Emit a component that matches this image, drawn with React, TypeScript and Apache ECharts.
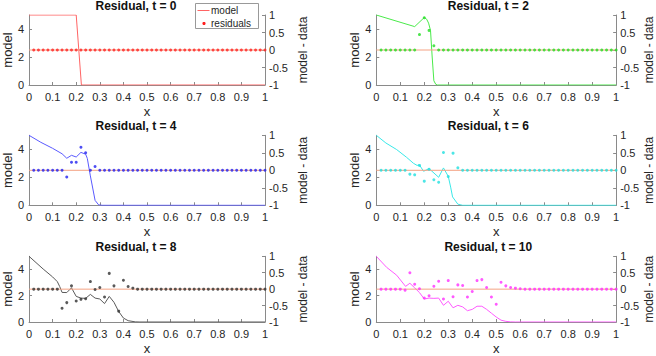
import React, { useEffect, useRef } from "react";
import * as echarts from "echarts";

// ---- data ----
const times = [0, 2, 4, 6, 8, 10];

const residualX = [
  0.02, 0.04, 0.06, 0.08, 0.1, 0.12, 0.14, 0.16, 0.18, 0.2,
  0.22, 0.24, 0.26, 0.28, 0.3, 0.32, 0.34, 0.36, 0.38, 0.4,
  0.42, 0.44, 0.46, 0.48, 0.5, 0.52, 0.54, 0.56, 0.58, 0.6,
  0.62, 0.64, 0.66, 0.68, 0.7, 0.72, 0.74, 0.76, 0.78, 0.8,
  0.82, 0.84, 0.86, 0.88, 0.9, 0.92, 0.94, 0.96, 0.98, 1,
];

const modelX_t0 = [0, 0.2, 0.222, 1];
const modelY_t0 = [5, 5, 0, 0];

const modelX_t2 = [0, 0.16, 0.2, 0.21, 0.218, 0.226, 0.233, 0.24, 0.248, 0.255, 1];
const modelY_t2 = [5, 4.17, 4.82, 4.7, 4.42, 3.9, 2.0, 0.3, 0.05, 0, 0];

const modelX_t4 = [0, 0.05, 0.1, 0.14, 0.16, 0.18, 0.2, 0.22, 0.24, 0.247, 0.26, 0.28, 0.295, 0.31, 1];
const modelY_t4 = [5, 4.5, 4.07, 3.68, 3.36, 3.57, 3.45, 3.78, 3.65, 3.35, 2.1, 0.35, 0.03, 0, 0];

const modelX_t6 = [0, 0.04, 0.085, 0.126, 0.155, 0.17, 0.18, 0.197, 0.22, 0.26, 0.28, 0.3, 0.31, 0.318, 0.34, 0.36, 1];
const modelY_t6 = [5, 4.45, 3.98, 3.43, 3.0, 2.85, 2.88, 2.43, 2.62, 2.0, 2.67, 2.07, 1.3, 0.6, 0.08, 0, 0];

const modelX_t8 = [0, 0.06, 0.1, 0.12, 0.13, 0.14, 0.16, 0.18, 0.2, 0.22, 0.24, 0.26, 0.28, 0.3, 0.32, 0.34, 0.36, 0.38, 0.4, 0.42, 0.45, 0.47, 1];
const modelY_t8 = [5, 4.03, 3.43, 3.07, 2.7, 2.25, 2.24, 2.6, 1.95, 1.82, 1.8, 2.1, 1.82, 1.75, 1.4, 1.95, 1.5, 0.8, 0.3, 0.1, 0.01, 0, 0];

const modelX_t10 = [0, 0.043, 0.085, 0.122, 0.14, 0.16, 0.18, 0.2, 0.22, 0.24, 0.26, 0.28, 0.3, 0.32, 0.34, 0.36, 0.38, 0.4, 0.42, 0.44, 0.46, 0.48, 0.5, 0.52, 0.54, 0.56, 0.58, 1];
const modelY_t10 = [5, 4.16, 3.56, 2.71, 2.95, 2.6, 2.24, 1.75, 1.82, 1.8, 1.82, 1.27, 1.58, 1.08, 1.27, 1.15, 0.86, 0.96, 1.2, 1.2, 0.96, 0.67, 0.38, 0.14, 0.05, 0.01, 0, 0];

// non-zero residuals (all other residuals are 0)
const resid_t0: [number, number][] = [];
const resid_t2: [number, number][] = [[0.18, 0.44], [0.2, 0.92], [0.22, 0.56], [0.24, 0.12]];
const resid_t4: [number, number][] = [[0.16, -0.19], [0.18, 0.23], [0.2, 0.23], [0.22, 0.66], [0.24, 0.5], [0.28, 0.11]];
const resid_t6: [number, number][] = [
  [0.14, -0.11], [0.16, -0.13], [0.18, 0.14], [0.2, -0.31], [0.22, 0.03], [0.24, -0.27],
  [0.26, -0.34], [0.28, 0.51], [0.3, -0.18], [0.32, 0.49], [0.34, 0.07],
];
const resid_t8: [number, number][] = [
  [0.14, -0.58], [0.16, -0.41], [0.18, 0.1], [0.2, -0.36], [0.22, -0.31], [0.24, -0.29],
  [0.26, 0.23], [0.28, -0.01], [0.3, 0.05], [0.32, -0.24], [0.34, 0.48], [0.36, 0.1],
  [0.38, -0.67], [0.4, 0.27], [0.42, 0.08], [0.44, 0.03],
];
const resid_t10: [number, number][] = [
  [0.12, -0.03], [0.14, 0.5], [0.16, 0.15], [0.18, 0.01], [0.2, -0.27], [0.22, -0.2],
  [0.24, 0.09], [0.26, 0.24], [0.28, -0.3], [0.3, 0.26], [0.32, -0.23], [0.34, 0.13],
  [0.36, 0.11], [0.38, -0.24], [0.4, -0.07], [0.42, 0.26], [0.44, 0.29], [0.46, 0.05],
  [0.48, -0.24], [0.5, -0.46], [0.52, 0.21], [0.54, 0.1], [0.56, 0.05], [0.58, 0.03], [0.6, 0.01],
];

const modelXs = [modelX_t0, modelX_t2, modelX_t4, modelX_t6, modelX_t8, modelX_t10];
const modelYs = [modelY_t0, modelY_t2, modelY_t4, modelY_t6, modelY_t8, modelY_t10];
const resids = [resid_t0, resid_t2, resid_t4, resid_t6, resid_t8, resid_t10];

const modelColors = ["#ff6464", "#4aea4a", "#5a5aff", "#3ae8e8", "#5a5a5a", "#ff5aff"];
const dotColors = ["#ff2020", "#20dd20", "#2020f0", "#20e0e0", "#303030", "#ff30ff"];
const zeroColor = "#f4a283";

// ---- layout ----
const colLeft = [24, 376.3];
const plotW = 241;
const rowTop = [15, 135.3, 256.3];
const plotH = 70;
const W = 656;
const H = 356;
const FONT = "Liberation Sans, Arial, Helvetica, sans-serif";
const axisGray = "#8a8a8a";
const textCol = "#262626";

function fmt(v: number) {
  return String(parseFloat(v.toFixed(2)));
}

function buildOption() {
  const grid: any[] = [];
  const xAxis: any[] = [];
  const yAxis: any[] = [];
  const series: any[] = [];
  const title: any[] = [];

  times.forEach((t, i) => {
    const col = i % 2;
    const row = Math.floor(i / 2);
    const left = colLeft[col];
    const top = rowTop[row];
    grid.push({ left, top, width: plotW, height: plotH, containLabel: false });

    title.push({
      text: `Residual, t = ${t}`,
      left: left + 112,
      top: top - 15,
      textAlign: "center",
      textStyle: { fontFamily: FONT, fontSize: 12, fontWeight: "bold", color: "#111" },
      padding: 0,
    });

    xAxis.push({
      type: "value",
      gridIndex: i,
      min: 0,
      max: 1,
      interval: 0.1,
      name: "x",
      nameLocation: "middle",
      nameGap: 20,
      nameTextStyle: { fontFamily: FONT, fontSize: 13, color: textCol },
      axisLine: { show: true, lineStyle: { color: axisGray, width: 1 } },
      axisTick: { show: true, inside: true, length: 3, lineStyle: { color: axisGray } },
      axisLabel: { fontFamily: FONT, fontSize: 11, color: textCol, margin: 6, formatter: (v: number) => fmt(v) },
      splitLine: { show: false },
    });

    yAxis.push({
      type: "value",
      gridIndex: i,
      position: "left",
      min: 0,
      max: 5,
      name: "model",
      nameLocation: "middle",
      nameGap: 12,
      nameTextStyle: { fontFamily: FONT, fontSize: 13, color: textCol },
      axisLine: { show: true, lineStyle: { color: axisGray, width: 1 } },
      axisTick: { show: true, inside: true, length: 3, customValues: [0, 2, 4], lineStyle: { color: axisGray } },
      axisLabel: { fontFamily: FONT, fontSize: 11, color: textCol, margin: 5, customValues: [0, 2, 4] },
      splitLine: { show: false },
    });

    yAxis.push({
      type: "value",
      gridIndex: i,
      position: "right",
      min: -1,
      max: 1,
      interval: 0.5,
      name: "model - data",
      nameLocation: "middle",
      nameGap: col === 0 ? 32 : 23,
      nameTextStyle: { fontFamily: FONT, fontSize: 12, color: textCol },
      axisLine: { show: true, lineStyle: { color: axisGray, width: 1 } },
      axisTick: { show: true, inside: true, length: 3, lineStyle: { color: axisGray } },
      axisLabel: { fontFamily: FONT, fontSize: 11, color: textCol, margin: 4, formatter: (v: number) => fmt(v) },
      splitLine: { show: false },
    });

    const mx = modelXs[i];
    const my = modelYs[i];
    series.push({
      type: "line",
      name: "model",
      xAxisIndex: i,
      yAxisIndex: 2 * i,
      data: mx.map((x, k) => [x, my[k]]),
      symbol: "none",
      showSymbol: false,
      lineStyle: { color: modelColors[i], width: 1 },
      itemStyle: { color: modelColors[i] },
      z: 2,
    });

    series.push({
      type: "line",
      name: "zero",
      xAxisIndex: i,
      yAxisIndex: 2 * i + 1,
      data: [[0, 0], [1, 0]],
      symbol: "none",
      showSymbol: false,
      lineStyle: { color: zeroColor, width: 1 },
      z: 3,
    });

    const sparse = resids[i];
    series.push({
      type: "scatter",
      name: "residuals",
      xAxisIndex: i,
      yAxisIndex: 2 * i + 1,
      data: residualX.map((x) => {
        const hit = sparse.find((p) => Math.abs(p[0] - x) < 1e-6);
        return [x, hit ? hit[1] : 0];
      }),
      symbol: "circle",
      symbolSize: 3,
      itemStyle: { color: dotColors[i] },
      z: 4,
    });
  });

  const graphic: any[] = [
    {
      type: "rect",
      shape: { x: 195.5, y: 3.5, width: 63, height: 25 },
      style: { fill: "#fff", stroke: "#999", lineWidth: 1 },
      z: 100,
    },
    {
      type: "line",
      shape: { x1: 197.5, y1: 10.5, x2: 209.5, y2: 10.5 },
      style: { stroke: modelColors[0], lineWidth: 1 },
      z: 101,
    },
    {
      type: "text",
      x: 211,
      y: 10.5,
      style: { text: "model", fontFamily: FONT, fontSize: 10, fill: textCol, textVerticalAlign: "middle", verticalAlign: "middle" },
      z: 101,
    },
    {
      type: "circle",
      shape: { cx: 204, cy: 23.5, r: 1.6 },
      style: { fill: dotColors[0] },
      z: 101,
    },
    {
      type: "text",
      x: 211,
      y: 23.5,
      style: { text: "residuals", fontFamily: FONT, fontSize: 10, fill: textCol, textVerticalAlign: "middle", verticalAlign: "middle" },
      z: 101,
    },
  ];

  return {
    animation: false,
    backgroundColor: "#ffffff",
    textStyle: { fontFamily: FONT },
    title,
    grid,
    xAxis,
    yAxis,
    series,
    graphic,
  };
}

export default function App() {
  const ref = useRef<HTMLDivElement>(null);
  useEffect(() => {
    if (!ref.current) return;
    const chart = echarts.init(ref.current, undefined, { renderer: "svg", width: W, height: H });
    chart.setOption(buildOption() as any);
    return () => chart.dispose();
  }, []);
  return (
    <div
      ref={ref}
      style={{ position: "fixed", left: 0, top: 0, width: W, height: H, background: "#fff" }}
    />
  );
}
